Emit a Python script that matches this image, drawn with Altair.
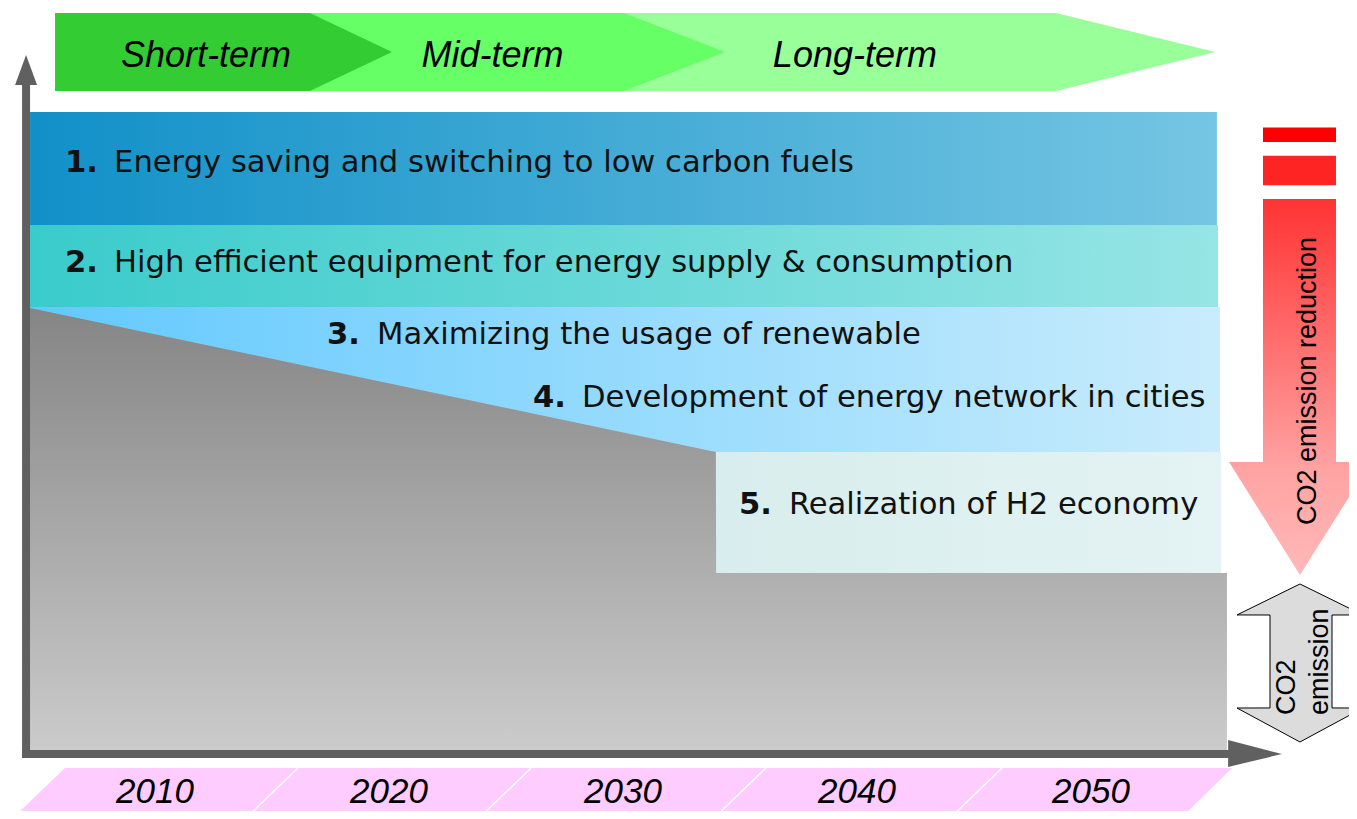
import altair as alt
import pandas as pd

# ---------------------------------------------------------------------------
# Data (x in calendar years, y in an abstract "CO2 emission level" index,
# 100 = today's total emission at the top of the measure bands)
# ---------------------------------------------------------------------------
YEARS = [2010, 2020, 2030, 2040, 2050]
YEAR_LABELS = ["2010", "2020", "2030", "2040", "2050"]
YEAR_LABEL_LEVEL = -5.92

TIMELINE_X = [2003.93, 2006.15, 2053.85, 2056.03]
TIMELINE_TOP = [-9.97, -2.18, -2.18, -2.18]
TIMELINE_BOTTOM = [-9.97, -9.97, -9.97, -2.18]
PERIOD_EDGE_TOP = [2016.11, 2026.07, 2036.11, 2046.20]
PERIOD_EDGE_BOTTOM = [2013.89, 2023.85, 2033.89, 2043.98]
TIMELINE_EDGE_HIGH = -2.18
TIMELINE_EDGE_LOW = -9.97

PHASES = ["Short-term", "Mid-term", "Long-term"]
PHASE_START = 2005.73
PHASE_BODY_END = [2016.62, 2030.04, 2048.50]
PHASE_TIP = [2020.13, 2034.36, 2055.30]
PHASE_TOP = 115.42
PHASE_BOTTOM = 103.27
PHASE_MID = 109.35
PHASE_LABEL_X = [2012.18, 2024.42, 2039.91]
PHASE_LABEL_LEVEL = 108.72

BAND_START = [2004.66, 2004.66, 2004.66, 2033.97]
BAND_END = [2055.38, 2055.43, 2055.51, 2055.56]
BAND_TOP = [100.0, 82.40, 69.63, 47.04]
BAND_BOTTOM = [82.40, 69.63, 47.04, 28.19]

EMISSION_X = [2004.66, 2033.97, 2033.98, 2055.81]
EMISSION_LEVEL = [69.47, 47.04, 28.19, 28.19]
EMISSION_BASE = 0.62

MEASURE_NUMBERS = ["1.", "2.", "3.", "4.", "5."]
MEASURE_TEXTS = [
    "Energy saving and switching to low carbon fuels",
    "High efficient equipment for energy supply & consumption",
    "Maximizing the usage of renewable",
    "Development of energy network in cities",
    "Realization of H2 economy",
]
MEASURE_NUMBER_X = [2006.15, 2006.15, 2017.35, 2026.15, 2034.96]
MEASURE_TEXT_X = [2008.25, 2008.25, 2019.49, 2028.25, 2037.09]
MEASURE_LEVEL = [91.98, 76.48, 65.26, 55.45, 38.79]

AXIS_X = 2004.49
AXIS_Y_LOW = -0.62
AXIS_Y_HIGH = 104.21
Y_HEAD_X = [2004.02, 2004.49, 2004.96]
Y_HEAD_TOP = [104.21, 108.88, 104.21]
Y_HEAD_BASE = [104.21, 104.21, 104.21]
AXIS_X_START = 2004.32
AXIS_X_END = 2055.94
X_HEAD_X = [2055.86, 2058.16]
X_HEAD_TOP = [2.18, 0.0]
X_HEAD_BOTTOM = [-2.02, 0.0]

REDUCTION_BAR_LEFT = 2057.35
REDUCTION_BAR_RIGHT = 2060.47
REDUCTION_BAR_TOP = [97.59, 93.19]
REDUCTION_BAR_BOTTOM = [95.33, 88.58]
REDUCTION_ARROW_LEVEL = [27.88, 45.47, 45.48, 86.45]
REDUCTION_ARROW_LEFT = [2058.93, 2055.90, 2057.35, 2057.35]
REDUCTION_ARROW_RIGHT = [2058.93, 2061.97, 2060.47, 2060.47]
REDUCTION_LABEL = "CO2 emission reduction"
REDUCTION_LABEL_X = 2059.62
REDUCTION_LABEL_LEVEL = 58.10

EMISSION_ARROW_LEVEL = [1.87, 7.16, 7.17, 21.65, 21.66, 26.48]
EMISSION_ARROW_LEFT = [2058.93, 2056.24, 2057.65, 2057.65, 2056.24, 2058.93]
EMISSION_ARROW_RIGHT = [2058.93, 2061.62, 2060.30, 2060.30, 2061.62, 2058.93]
EMISSION_LABELS = ["CO2", "emission"]
EMISSION_LABEL_X = [2058.72, 2060.13]
EMISSION_LABEL_LEVEL = 6.07

# ---------------------------------------------------------------------------
# Styles
# ---------------------------------------------------------------------------
PHASE_COLORS = ["#33cc33", "#66ff66", "#99ff99"]
BAND_COLORS = [
    ("#1190c8", "#75c6e3"),
    ("#3acbcb", "#97e5e5"),
    ("#62c9fe", "#c9ecfc"),
    ("#d8eded", "#e4f3f3"),
]
AXIS_COLOR = "#606060"
TEXT_FONT = "DejaVu Sans"
LABEL_FONT = "Liberation Sans"

X_DOMAIN = [2003.718, 2061.026]
Y_DOMAIN = [-8.879, 116.199]
XS = alt.Scale(domain=X_DOMAIN, nice=False, zero=False)
YS = alt.Scale(domain=Y_DOMAIN, nice=False, zero=False)


def ex(field="x"):
    return alt.X(f"{field}:Q", scale=XS, axis=None)


def ey(field="y"):
    return alt.Y(f"{field}:Q", scale=YS, axis=None)


def grad(stops, horizontal=True):
    return alt.Gradient(
        gradient="linear",
        stops=[alt.GradientStop(color=c, offset=o) for c, o in stops],
        x1=0, y1=0,
        x2=1 if horizontal else 0,
        y2=0 if horizontal else 1,
    )


layers = []

# Measure bands
for i in range(len(BAND_START)):
    df = pd.DataFrame({"x": [BAND_START[i]], "x2": [BAND_END[i]],
                       "y": [BAND_TOP[i]], "y2": [BAND_BOTTOM[i]]})
    c0, c1 = BAND_COLORS[i]
    layers.append(
        alt.Chart(df).mark_rect(fill=grad([(c0, 0), (c1, 1)])).encode(
            x=ex("x"), x2="x2:Q", y=ey("y"), y2="y2:Q")
    )

# Remaining CO2 emission (grey)
df_em = pd.DataFrame({"x": EMISSION_X, "y": EMISSION_LEVEL,
                      "y2": [EMISSION_BASE] * len(EMISSION_X)})
layers.append(
    alt.Chart(df_em).mark_area(
        orient="vertical",
        fill=grad([("#858585", 0), ("#cbcbcb", 1)], horizontal=False),
    ).encode(x=ex("x"), y=ey("y"), y2="y2:Q")
)

# Phase banner (draw long-term first)
for i in reversed(range(len(PHASES))):
    df = pd.DataFrame({
        "x": [PHASE_START, PHASE_BODY_END[i], PHASE_TIP[i]],
        "y": [PHASE_TOP, PHASE_TOP, PHASE_MID],
        "y2": [PHASE_BOTTOM, PHASE_BOTTOM, PHASE_MID],
    })
    layers.append(
        alt.Chart(df).mark_area(orient="vertical", color=PHASE_COLORS[i]).encode(
            x=ex("x"), y=ey("y"), y2="y2:Q")
    )
df_phase = pd.DataFrame({"x": PHASE_LABEL_X, "y": [PHASE_LABEL_LEVEL] * 3,
                         "t": PHASES})
layers.append(
    alt.Chart(df_phase).mark_text(
        font=LABEL_FONT, fontSize=36, fontStyle="italic", color="#000000",
        align="center", baseline="middle",
    ).encode(x=ex("x"), y=ey("y"), text="t:N")
)

# Measure labels
df_num = pd.DataFrame({"x": MEASURE_NUMBER_X, "y": MEASURE_LEVEL,
                       "t": MEASURE_NUMBERS})
df_txt = pd.DataFrame({"x": MEASURE_TEXT_X, "y": MEASURE_LEVEL,
                       "t": MEASURE_TEXTS})
layers.append(
    alt.Chart(df_num).mark_text(
        font=TEXT_FONT, fontSize=30.6, fontWeight="bold", color="#111111",
        align="left", baseline="middle",
    ).encode(x=ex("x"), y=ey("y"), text="t:N")
)
layers.append(
    alt.Chart(df_txt).mark_text(
        font=TEXT_FONT, fontSize=30.6, color="#111111",
        align="left", baseline="middle",
    ).encode(x=ex("x"), y=ey("y"), text="t:N")
)

# Axes with arrow heads
layers.append(
    alt.Chart(pd.DataFrame({"x": [AXIS_X], "y": [AXIS_Y_LOW], "y2": [AXIS_Y_HIGH]}))
    .mark_rule(color=AXIS_COLOR, strokeWidth=8)
    .encode(x=ex("x"), y=ey("y"), y2="y2:Q")
)
layers.append(
    alt.Chart(pd.DataFrame({"x": Y_HEAD_X, "y": Y_HEAD_TOP, "y2": Y_HEAD_BASE}))
    .mark_area(orient="vertical", color=AXIS_COLOR)
    .encode(x=ex("x"), y=ey("y"), y2="y2:Q")
)
layers.append(
    alt.Chart(pd.DataFrame({"x": [AXIS_X_START], "x2": [AXIS_X_END], "y": [0.0]}))
    .mark_rule(color=AXIS_COLOR, strokeWidth=8)
    .encode(x=ex("x"), x2="x2:Q", y=ey("y"))
)
layers.append(
    alt.Chart(pd.DataFrame({"x": X_HEAD_X, "y": X_HEAD_TOP, "y2": X_HEAD_BOTTOM}))
    .mark_area(orient="vertical", color=AXIS_COLOR)
    .encode(x=ex("x"), y=ey("y"), y2="y2:Q")
)

# Timeline (years)
layers.append(
    alt.Chart(pd.DataFrame({"x": TIMELINE_X, "y": TIMELINE_TOP, "y2": TIMELINE_BOTTOM}))
    .mark_area(orient="vertical", color="#ffccff")
    .encode(x=ex("x"), y=ey("y"), y2="y2:Q")
)
layers.append(
    alt.Chart(pd.DataFrame({
        "x": PERIOD_EDGE_TOP, "x2": PERIOD_EDGE_BOTTOM,
        "y": [TIMELINE_EDGE_HIGH] * 4, "y2": [TIMELINE_EDGE_LOW] * 4,
    })).mark_rule(color="#ffffff", strokeWidth=1.5)
    .encode(x=ex("x"), x2="x2:Q", y=ey("y"), y2="y2:Q")
)
layers.append(
    alt.Chart(pd.DataFrame({"x": YEARS, "y": [YEAR_LABEL_LEVEL] * 5, "t": YEAR_LABELS}))
    .mark_text(font=LABEL_FONT, fontSize=35, fontStyle="italic", color="#000000",
               align="center", baseline="middle")
    .encode(x=ex("x"), y=ey("y"), text="t:N")
)

# CO2 emission reduction arrow
layers.append(
    alt.Chart(pd.DataFrame({"x": [REDUCTION_BAR_LEFT] * 2, "x2": [REDUCTION_BAR_RIGHT] * 2,
                            "y": REDUCTION_BAR_TOP, "y2": REDUCTION_BAR_BOTTOM,
                            "k": ["a", "b"]}))
    .mark_rect()
    .encode(x=ex("x"), x2="x2:Q", y=ey("y"), y2="y2:Q",
            color=alt.Color("k:N", scale=alt.Scale(domain=["a", "b"],
                                                   range=["#ff0000", "#ff2424"]),
                            legend=None))
)
layers.append(
    alt.Chart(pd.DataFrame({"y": REDUCTION_ARROW_LEVEL, "x": REDUCTION_ARROW_LEFT,
                            "x2": REDUCTION_ARROW_RIGHT}))
    .mark_area(orient="horizontal",
               fill=grad([("#ff3333", 0), ("#ffa3a3", 0.72), ("#ffb8b8", 1)],
                         horizontal=False))
    .encode(y=ey("y"), x=ex("x"), x2="x2:Q")
)
layers.append(
    alt.Chart(pd.DataFrame({"x": [REDUCTION_LABEL_X], "y": [REDUCTION_LABEL_LEVEL],
                            "t": [REDUCTION_LABEL]}))
    .mark_text(font=LABEL_FONT, fontSize=27, angle=270, color="#000000",
               align="center", baseline="alphabetic")
    .encode(x=ex("x"), y=ey("y"), text="t:N")
)

# CO2 emission double arrow
layers.append(
    alt.Chart(pd.DataFrame({"y": EMISSION_ARROW_LEVEL, "x": EMISSION_ARROW_LEFT,
                            "x2": EMISSION_ARROW_RIGHT}))
    .mark_area(orient="horizontal", fill="#dcdcdc", stroke="#000000", strokeWidth=1)
    .encode(y=ey("y"), x=ex("x"), x2="x2:Q")
)
layers.append(
    alt.Chart(pd.DataFrame({"x": EMISSION_LABEL_X, "y": [EMISSION_LABEL_LEVEL] * 2,
                            "t": EMISSION_LABELS}))
    .mark_text(font=LABEL_FONT, fontSize=27, angle=270, color="#000000",
               align="left", baseline="alphabetic")
    .encode(x=ex("x"), y=ey("y"), text="t:N")
)

chart = (
    alt.layer(*layers)
    .properties(width=1341, height=803,
                autosize=alt.AutoSizeParams(type="none"), padding=0,
                background="#ffffff")
    .configure_view(stroke=None)
)

chart.save("out.html", embed_options={"renderer": "svg", "actions": False})
